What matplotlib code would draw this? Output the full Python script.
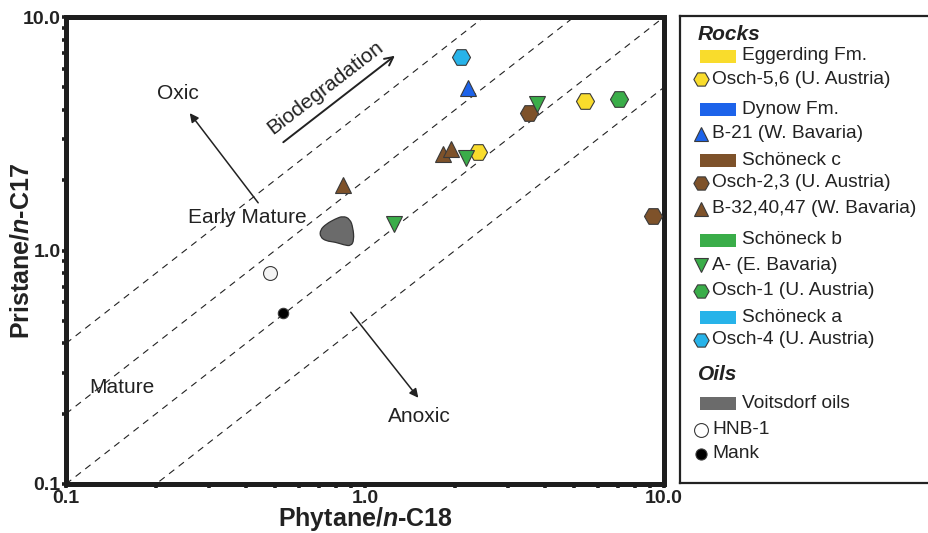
import numpy as np
import matplotlib
matplotlib.use("Agg")
import matplotlib.pyplot as plt
from matplotlib.path import Path
from matplotlib.patches import PathPatch, Rectangle
from matplotlib.ticker import FixedLocator, FixedFormatter, NullFormatter

plt.rcParams['font.family'] = ['Liberation Sans', 'DejaVu Sans']
plt.rcParams['mathtext.fontset'] = 'custom'
plt.rcParams['mathtext.rm'] = 'Liberation Sans:bold'
plt.rcParams['mathtext.it'] = 'Liberation Sans:italic:bold'

# Phytane/n-C18 (x) and Pristane/n-C17 (y)
egg_ph, egg_pr = [5.44, 2.39], [4.38, 2.64]            # Eggerding Fm., Osch-5,6
dyn_ph, dyn_pr = [2.21], [4.97]                         # Dynow Fm., B-21
sc_hex_ph, sc_hex_pr = [3.54, 9.17], [3.87, 1.405]      # Schoneck c, Osch-2,3
sc_tri_ph, sc_tri_pr = [0.842, 1.82, 1.935], [1.90, 2.59, 2.72]  # Schoneck c, B-32,40,47
sb_tri_ph, sb_tri_pr = [3.77, 2.18, 1.25], [4.24, 2.50, 1.30]    # Schoneck b, A-
sb_hex_ph, sb_hex_pr = [7.07], [4.44]                   # Schoneck b, Osch-1
sa_hex_ph, sa_hex_pr = [2.095], [6.72]                  # Schoneck a, Osch-4
hnb_ph, hnb_pr = [0.481], [0.804]
mank_ph, mank_pr = [0.533], [0.538]

# Voitsdorf oils field outline
voits_ph = [0.844, 0.891, 0.912, 0.919, 0.898, 0.851, 0.794, 0.741, 0.708, 0.708, 0.741, 0.794]
voits_pr = [1.406, 1.364, 1.248, 1.109, 1.045, 1.056, 1.087, 1.098, 1.142, 1.224, 1.298, 1.364]

# Pr/Ph ratio lines
ratios = [4, 2, 1, 0.5]

c_yellow = '#f9dc2c'
c_blue = '#1d63ea'
c_brown = '#7e522a'
c_green = '#3aad49'
c_lblue = '#27b3e9'
c_gray = '#6b6b6b'
edge = '#3a3a3a'
tc = '#222222'

fig = plt.figure(figsize=(9.29, 5.33), dpi=100)
W, H = 929, 533
ax = fig.add_axes([66 / W, (H - 484) / H, (664 - 66) / W, (484 - 17) / H])
ax.set_xscale('log')
ax.set_yscale('log')
ax.set_xlim(0.1, 10)
ax.set_ylim(0.1, 10)

xs = np.array([0.1, 10])
for k in ratios:
    ax.plot(xs, k * xs, color=tc, lw=0.8, dashes=(6, 5), zorder=1)

# oil field, smoothed outline through the midpoints
verts = list(zip(voits_ph, voits_pr))
n = len(verts)
mids = [((verts[i][0] + verts[(i + 1) % n][0]) / 2, (verts[i][1] + verts[(i + 1) % n][1]) / 2) for i in range(n)]
pv = [mids[-1]]
codes = [Path.MOVETO]
for i in range(n):
    pv += [verts[i], mids[i]]
    codes += [Path.CURVE3, Path.CURVE3]
ax.add_patch(PathPatch(Path(pv, codes), facecolor=c_gray, edgecolor='#333333', lw=0.9, zorder=3))

mk = dict(markeredgecolor=edge, markeredgewidth=0.8, linestyle='none', zorder=4)
ax.plot(egg_ph, egg_pr, 'H', ms=13, color=c_yellow, **mk)
ax.plot(dyn_ph, dyn_pr, '^', ms=11.5, color=c_blue, **mk)
ax.plot(sc_hex_ph, sc_hex_pr, 'H', ms=13, color=c_brown, **mk)
ax.plot(sc_tri_ph, sc_tri_pr, '^', ms=11.5, color=c_brown, **mk)
ax.plot(sb_tri_ph, sb_tri_pr, 'v', ms=11.5, color=c_green, **mk)
ax.plot(sb_hex_ph, sb_hex_pr, 'H', ms=13, color=c_green, **mk)
ax.plot(sa_hex_ph, sa_hex_pr, 'H', ms=13, color=c_lblue, **mk)
ax.plot(hnb_ph, hnb_pr, 'o', ms=10, color='#f4f4f4', **mk)
ax.plot(mank_ph, mank_pr, 'o', ms=7.5, color='black', **mk)

# annotations
afs = 15
ax.text(0.237, 4.68, 'Oxic', fontsize=afs, ha='center', va='center', color=tc)
ax.annotate('', xy=(0.256, 3.96), xytext=(0.445, 1.566),
            arrowprops=dict(arrowstyle='-|>', color=tc, lw=1.1, mutation_scale=13))
ax.text(0.735, 4.97, 'Biodegradation', fontsize=afs, ha='center', va='center',
        rotation=37.5, rotation_mode='anchor', color=tc)
ax.annotate('', xy=(1.28, 6.94), xytext=(0.524, 2.86),
            arrowprops=dict(arrowstyle='->', color=tc, lw=1.4, mutation_scale=15))
ax.text(0.403, 1.378, 'Early Mature', fontsize=afs, ha='center', va='center', color=tc)
ax.text(0.154, 0.258, 'Mature', fontsize=afs, ha='center', va='center', color=tc)
ax.text(1.515, 0.194, 'Anoxic', fontsize=afs, ha='center', va='center', color=tc)
ax.annotate('', xy=(1.528, 0.229), xytext=(0.884, 0.556),
            arrowprops=dict(arrowstyle='-|>', color=tc, lw=1.1, mutation_scale=13))

# frame and ticks
for s in ax.spines.values():
    s.set_linewidth(3.6)
    s.set_color('#1e1e1e')
major = [0.1, 1, 10]
minor = [m * d for d in (0.1, 1) for m in range(2, 10)]
for axis in (ax.xaxis, ax.yaxis):
    axis.set_major_locator(FixedLocator(major))
    axis.set_major_formatter(FixedFormatter(['0.1', '1.0', '10.0']))
    axis.set_minor_locator(FixedLocator(minor))
    axis.set_minor_formatter(NullFormatter())
ax.tick_params(which='both', direction='out', length=3, width=2.6, color='#1e1e1e',
               top=False, right=False)
ax.tick_params(axis='both', which='major', labelsize=14, pad=1)
for lab in ax.get_xticklabels() + ax.get_yticklabels():
    lab.set_fontweight('bold')
    lab.set_color(tc)
ax.set_xlabel(r'Phytane/$\it{n}$-C18', fontsize=18, fontweight='bold', color=tc, va='center')
ax.set_ylabel(r'Pristane/$\it{n}$-C17', fontsize=18, fontweight='bold', color=tc, va='center')
ax.xaxis.set_label_coords(0.5, -0.075)
ax.yaxis.set_label_coords(-0.074, 0.5)

# legend panel, laid out in pixel units
lg = fig.add_axes([680 / W, (H - 483) / H, 260 / W, (483 - 16) / H])
lg.set_xlim(680, 940)
lg.set_ylim(483, 16)
lg.set_xticks([])
lg.set_yticks([])
for s in lg.spines.values():
    s.set_linewidth(1.6)
    s.set_color(tc)
lg.spines['right'].set_visible(False)

fs = 13.8
tx_rect, tx_mark = 742, 712
x_mark = 700.5


def head(y, label):
    lg.text(698, y, label, fontsize=15, fontweight='bold', fontstyle='italic',
            va='center', ha='left', color=tc)


def rect(y, color, label):
    lg.add_patch(Rectangle((700, y - 6.5), 36, 13, facecolor=color, edgecolor='none'))
    lg.text(tx_rect, y, label, fontsize=fs, va='center', ha='left', color=tc)


def mark(y, m, color, label, ms=11):
    lg.plot([x_mark], [y], m, ms=ms, color=color, markeredgecolor=edge,
            markeredgewidth=0.8, linestyle='none', clip_on=False)
    lg.text(tx_mark, y, label, fontsize=fs, va='center', ha='left', color=tc)


head(34, 'Rocks')
rect(56, c_yellow, 'Eggerding Fm.')
mark(79, 'H', c_yellow, 'Osch-5,6 (U. Austria)')
rect(109, c_blue, 'Dynow Fm.')
mark(134, '^', c_blue, 'B-21 (W. Bavaria)', ms=10)
rect(160.5, c_brown, 'Schöneck c')
mark(182.5, 'H', c_brown, 'Osch-2,3 (U. Austria)')
mark(208.5, '^', c_brown, 'B-32,40,47 (W. Bavaria)', ms=10)
rect(240, c_green, 'Schöneck b')
mark(265, 'v', c_green, 'A- (E. Bavaria)', ms=10)
mark(290.5, 'H', c_green, 'Osch-1 (U. Austria)')
rect(317, c_lblue, 'Schöneck a')
mark(339.5, 'H', c_lblue, 'Osch-4 (U. Austria)')
head(375, 'Oils')
rect(403, c_gray, 'Voitsdorf oils')
mark(429.5, 'o', 'white', 'HNB-1', ms=10)
mark(454, 'o', 'black', 'Mank', ms=8)

fig.savefig('out.png', dpi=100)
